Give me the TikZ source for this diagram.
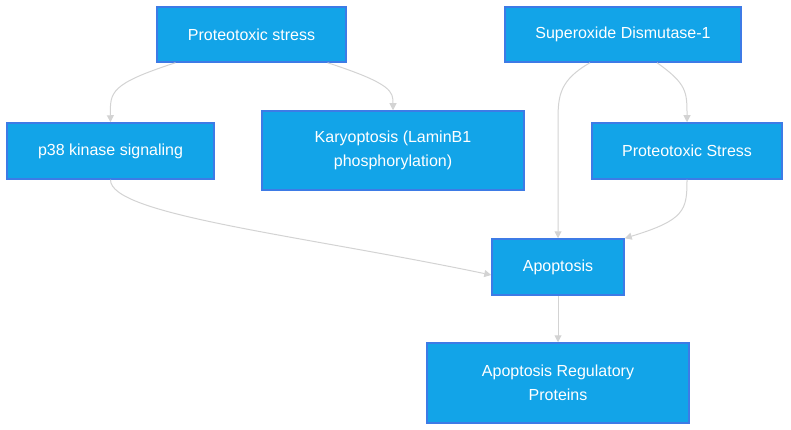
\documentclass[tikz,border=0pt]{standalone}
\usepackage{fontspec}
\setmainfont{Liberation Sans}
\usetikzlibrary{arrows.meta,calc}
\definecolor{boxfill}{HTML}{12A4E8}
\definecolor{boxline}{HTML}{3D7BE6}
\definecolor{edgec}{HTML}{D3D3D3}
\begin{document}
\begin{tikzpicture}[x=1pt,y=-1pt,
  box/.style={draw=boxline,line width=1.5pt,fill=boxfill,text=white,font=\fontsize{16}{24}\selectfont,align=center,inner sep=0pt,anchor=center},
  edge/.style={draw=edgec,line width=1pt,-{Triangle[length=7pt,width=7pt]}}]
\useasboundingbox (0,0) rectangle (791,430);
\node[box,minimum width=189pt,minimum height=55pt] (ps) at (251.5,34.5) {Proteotoxic stress};
\node[box,minimum width=236pt,minimum height=55pt] (sod) at (623,34.5) {Superoxide Dismutase-1};
\node[box,minimum width=207pt,minimum height=56pt] (p38) at (110.5,151) {p38 kinase signaling};
\node[box,minimum width=262pt,minimum height=79pt] (kar) at (393,150.5) {Karyoptosis (LaminB1\\phosphorylation)};
\node[box,minimum width=190pt,minimum height=56pt] (pst) at (687,151) {Proteotoxic Stress};
\node[box,minimum width=132pt,minimum height=56pt] (apo) at (558,267) {Apoptosis};
\node[box,minimum width=262pt,minimum height=80pt] (arp) at (558,383) {Apoptosis Regulatory\\Proteins};
\draw[edge] ([xshift=-76pt]ps.south) .. controls (110,84) and (110,92) .. (p38.north);
\draw[edge] ([xshift=76pt]ps.south) .. controls (393,84) and (393,92) .. (kar.north);
\draw[edge] ([xshift=-33pt]sod.south) .. controls (560,80) and (558,95) .. (558,120) -- (apo.north);
\draw[edge] ([xshift=34pt]sod.south) .. controls (687,84) and (687,92) .. (pst.north);
\draw[edge] (p38.south) .. controls (110,215) and (300,235) .. ([yshift=-8pt]apo.west);
\draw[edge] (pst.south) .. controls (687,210) and (685,220) .. (apo.north east);
\draw[edge] (apo.south) -- (arp.north);
\end{tikzpicture}
\end{document}
